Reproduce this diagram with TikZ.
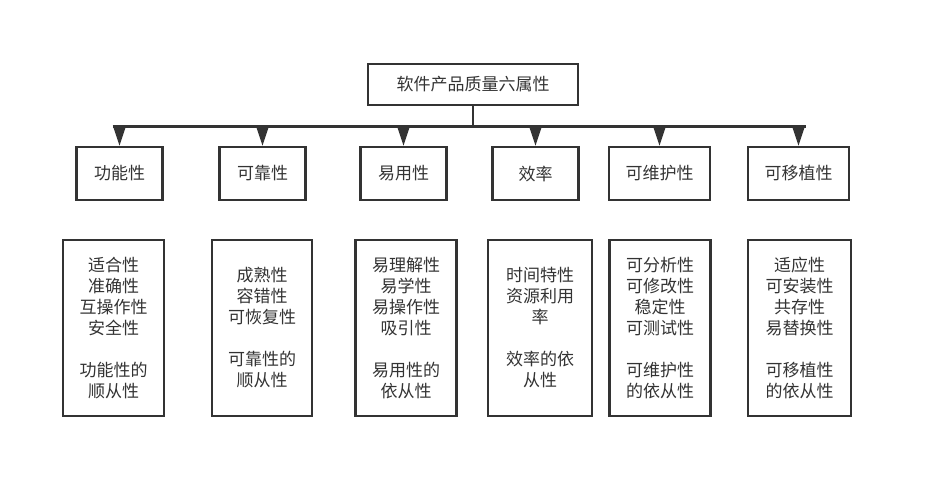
\documentclass[tikz,border=0pt]{standalone}
\usepackage{fontspec}
\setmainfont{Noto Sans CJK SC}
\usetikzlibrary{arrows.meta, positioning}
\definecolor{ink}{HTML}{333333}

\begin{document}
\begin{tikzpicture}[x=1pt, y=-1pt,
        box/.style={draw=ink, line width=2.5pt, minimum width=86pt, minimum height=53pt, align=center, text=ink, font=\fontsize{17}{21}\selectfont},
        wide/.style={box, minimum width=101pt},
        list/.style={box, minimum width=101pt, minimum height=176pt},
        arr/.style={-{Triangle[width=12pt, length=19pt]}, draw=ink, fill=ink, line width=2pt}
    ]
        \useasboundingbox (0,0) rectangle (932,499);
        \node[box, minimum width=210pt, minimum height=41pt] (root) at (473,84.5) {软件产品质量六属性};
        \coordinate (bar) at (473,126);
        % second level
        \node[box] (func) at (119.5,173.5) {功能性};
        \node[box] (reli) at (262.5,173.5) {可靠性};
        \node[box] (usab) at (403.5,173.5) {易用性};
        \node[box] (effi) at (535.5,173.5) {效率};
        \node[wide] (main) at (659.5,173.5) {可维护性};
        \node[wide] (port) at (798.5,173.5) {可移植性};
        % sub-characteristics
        \node[list] (funcl) at (113.5,328) {适合性\\准确性\\互操作性\\安全性\\[21pt]功能性的\\顺从性};
        \node[list, minimum width=100pt] (relil) at (262,328) {成熟性\\容错性\\可恢复性\\[21pt]可靠性的\\顺从性};
        \node[list] (usabl) at (406,328) {易理解性\\易学性\\易操作性\\吸引性\\[21pt]易用性的\\依从性};
        \node[list, minimum width=104pt] (effil) at (540,328) {时间特性\\资源利用\\率\\[21pt]效率的依\\从性};
        \node[list] (mainl) at (660,328) {可分析性\\可修改性\\稳定性\\可测试性\\[21pt]可维护性\\的依从性};
        \node[list, minimum width=103pt] (portl) at (799.5,328) {适应性\\可安装性\\共存性\\易替换性\\[21pt]可移植性\\的依从性};
        % tree lines
        \draw[ink, line width=2pt] (root.south) -- (bar);
        \draw[ink, line width=3pt] ([xshift=-7pt]bar -| func.north) -- ([xshift=7pt]bar -| port.north);
        \draw[arr] (bar -| func.north) -- (func.north);
        \draw[arr] (bar -| reli.north) -- (reli.north);
        \draw[arr] (bar -| usab.north) -- (usab.north);
        \draw[arr] (bar -| effi.north) -- (effi.north);
        \draw[arr] (bar -| main.north) -- (main.north);
        \draw[arr] (bar -| port.north) -- (port.north);
    \end{tikzpicture}
\end{document}
